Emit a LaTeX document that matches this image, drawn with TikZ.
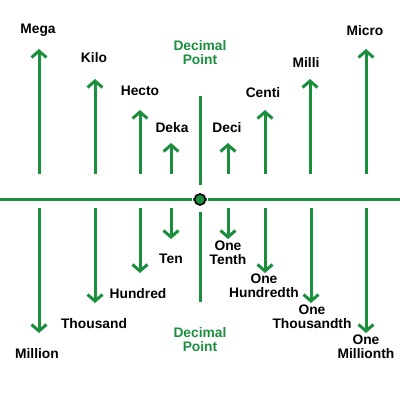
\documentclass[tikz,border=0pt]{standalone}
\usepackage{fontspec}
\setmainfont{Liberation Sans}
\usetikzlibrary{arrows.meta,positioning}
\definecolor{PointGreen}{HTML}{1B8F3E}
\tikzset{
  unitarrow/.style={draw=PointGreen,line width=3pt,-{Straight Barb[length=6.5pt,width=15pt]}},
  unitlabel/.style={inner sep=0pt,align=center,font=\fontsize{13.8}{14}\selectfont\bfseries},
  pointlabel/.style={unitlabel,text=PointGreen},
  axisline/.style={draw=PointGreen,line width=3pt}
}

\begin{document}
\begin{tikzpicture}[x=1pt,y=-1pt]
\useasboundingbox (0,0) rectangle (400,400);
% axes
\coordinate (axis-w) at (0,199.5);
\coordinate (axis-e) at (400,199.5);
\coordinate (point-top) at (200,96);
\coordinate (point-bot) at (200,302);
\draw[axisline] (axis-w) -- (axis-e);
\draw[axisline] (point-top) -- (200,185);
\draw[axisline] (200,212) -- (point-bot);
\node[circle,fill=white,inner sep=0pt,minimum size=16pt] (dot-halo) at (200,199.5) {};
\draw[axisline] (193,199.5) -- (207,199.5);
\node[circle,draw=black,line width=1.6pt,fill=PointGreen,inner sep=0pt,minimum size=11pt] (dot) at (200,199.5) {};
\node[pointlabel] (point-up) at (200,53) {Decimal\\Point};
\node[pointlabel] (point-down) at (200,340) {Decimal\\Point};
% prefixes (up)
\foreach \nm/\x/\tip/\lx/\ly/\txt in {mega/39/49/38/30/Mega,kilo/95/79/94/58/Kilo,hecto/140/110/140/91/Hecto,deka/171/143/172/128/Deka,deci/228/143/227/128/Deci,centi/265/110/263/93/Centi,milli/310/79/306/62/Milli,micro/366/49/365/31/Micro}{
  \coordinate (\nm-tail) at (\x,174);
  \coordinate (\nm-tip) at (\x,\tip);
  \draw[unitarrow] (\nm-tail) -- (\nm-tip);
  \node[unitlabel] (\nm-label) at (\lx,\ly) {\txt};
}
% values (down)
\foreach \nm/\x/\tip/\lx/\ly/\txt in {million/39/333/37/354/Million,thousand/95/303/94/324/Thousand,hundred/140/273/138/294/Hundred,ten/171/239/171/259/Ten,tenth/228/239/228/253/{One\\Tenth},hundredth/265/273/264/286/{One\\Hundredth},thousandth/311/303/312/317/{One\\Thousandth},millionth/366/333/366/347/{One\\Millionth}}{
  \coordinate (\nm-tail) at (\x,208);
  \coordinate (\nm-tip) at (\x,\tip);
  \draw[unitarrow] (\nm-tail) -- (\nm-tip);
  \node[unitlabel] (\nm-label) at (\lx,\ly) {\txt};
}
\end{tikzpicture}
\end{document}
